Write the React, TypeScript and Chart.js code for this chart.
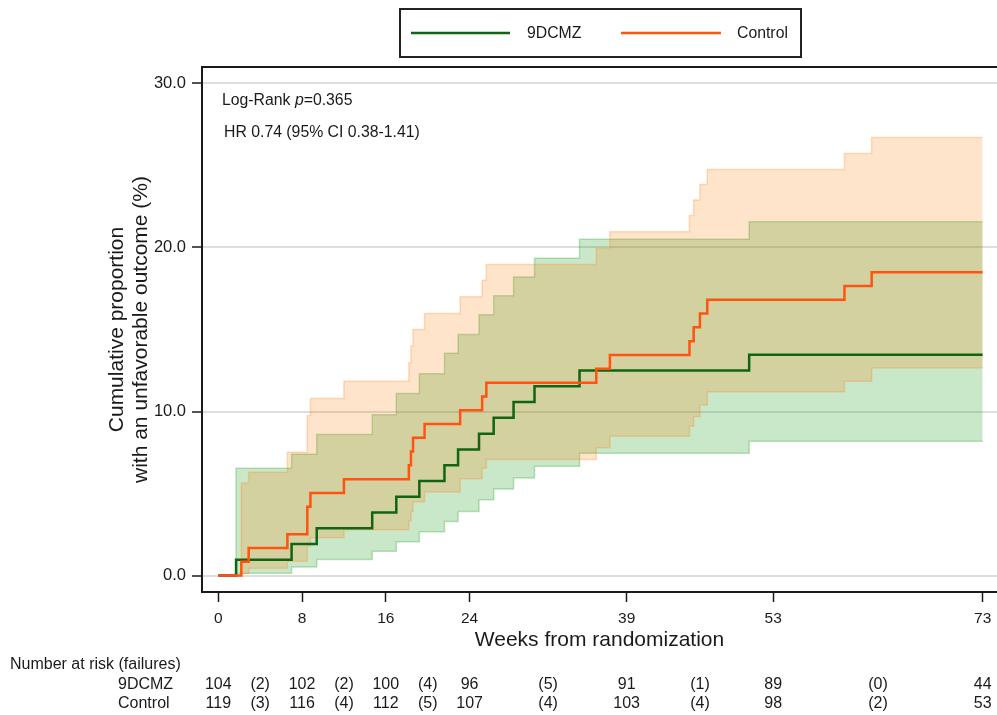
import { useEffect, useRef } from 'react';
import { Chart, registerables } from 'chart.js';

Chart.register(...registerables);

const FONT = "'Liberation Sans', Arial, Helvetica, sans-serif";
const TEXT = '#1a1a1a';

// ---- Data (weeks, cumulative %) ----
const weeks9 = [0, 1.7, 7.0, 9.4, 14.7, 17.0, 19.2, 21.6, 22.9, 24.9, 26.3, 28.2, 30.2, 34.5, 50.7, 73];
const cum9 = [0, 0.96, 1.92, 2.88, 3.85, 4.81, 5.77, 6.73, 7.69, 8.65, 9.62, 10.58, 11.54, 12.5, 13.46, 13.46];
const upper9 = [0, 6.55, 7.4, 8.6, 9.8, 11.1, 12.3, 13.55, 14.7, 15.9, 17.05, 18.2, 19.35, 20.5, 21.57, 21.57];
const lower9 = [0, 0.15, 0.53, 0.98, 1.48, 2.07, 2.68, 3.3, 3.9, 4.63, 5.28, 5.95, 6.67, 7.46, 8.19, 8.19];

const weeksC = [0, 2.2, 2.9, 6.6, 8.5, 8.8, 12.0, 18.2, 18.4, 18.6, 19.7, 23.1, 25.2, 25.6, 36.1, 37.4, 45.0, 45.4, 46.0, 46.7, 59.8, 62.4, 73];
const cumC = [0, 0.84, 1.68, 2.52, 4.2, 5.04, 5.88, 6.72, 7.56, 8.4, 9.24, 10.08, 10.92, 11.76, 12.61, 13.45, 14.29, 15.13, 15.97, 16.81, 17.65, 18.49, 18.49];
const upperC = [0, 5.65, 6.3, 7.52, 9.76, 10.8, 11.85, 12.97, 14.0, 15.0, 15.98, 17.0, 18.0, 18.96, 19.94, 20.96, 21.95, 22.9, 23.84, 24.76, 25.73, 26.7, 26.7];
const lowerC = [0, 0.12, 0.45, 0.87, 1.8, 2.3, 2.8, 3.35, 3.9, 4.5, 5.1, 5.9, 6.55, 7.07, 7.8, 8.5, 9.1, 9.7, 10.4, 11.2, 11.85, 12.66, 12.66];

const xTicks = [0, 8, 16, 24, 39, 53, 73];
const yTicks = [0, 10, 20, 30];

// ---- Risk table ----
const groupNames = ['9DCMZ', 'Control'];
const risk9 = [104, 102, 100, 96, 91, 89, 44];
const fail9 = [2, 2, 4, 5, 1, 0];
const riskC = [119, 116, 112, 107, 103, 98, 53];
const failC = [3, 4, 5, 4, 4, 2];

const riskHeader = 'Number at risk (failures)';
const xTitle = 'Weeks from randomization';
const yTitle = ['Cumulative proportion', 'with an unfavorable outcome (%)'];
const annoLogRank = ['Log-Rank ', 'p', '=0.365'];
const annoHR = 'HR 0.74 (95% CI 0.38-1.41)';

const GREEN = 'rgb(18,100,18)';
const ORANGE = 'rgb(255,84,16)';
const GREEN_FILL = 'rgba(40,160,40,0.25)';
const ORANGE_FILL = 'rgba(255,120,0,0.2)';
const GREEN_EDGE = 'rgba(40,160,40,0.3)';
const ORANGE_EDGE = 'rgba(255,130,30,0.28)';

const pts = (xs: number[], ys: number[]) => xs.map((x, i) => ({ x, y: ys[i] }));

export default function App() {
  const ref = useRef<HTMLCanvasElement>(null);

  useEffect(() => {
    const canvas = ref.current;
    if (!canvas) return;

    const overlay = {
      id: 'overlay',
      afterDraw(chart: any) {
        const ctx = chart.ctx as CanvasRenderingContext2D;
        const area = chart.chartArea;
        const xs = chart.scales.x;
        const W = chart.width;
        ctx.save();
        // top frame line
        ctx.strokeStyle = TEXT;
        ctx.lineWidth = 2;
        ctx.beginPath();
        ctx.moveTo(area.left - 1, area.top);
        ctx.lineTo(W, area.top);
        ctx.stroke();

        // legend box
        ctx.lineWidth = 2;
        ctx.strokeStyle = '#222';
        ctx.strokeRect(400, 9, 401, 48);
        ctx.lineWidth = 2.5;
        ctx.strokeStyle = GREEN;
        ctx.beginPath();
        ctx.moveTo(411, 33);
        ctx.lineTo(510, 33);
        ctx.stroke();
        ctx.strokeStyle = ORANGE;
        ctx.beginPath();
        ctx.moveTo(621, 33);
        ctx.lineTo(721, 33);
        ctx.stroke();
        ctx.fillStyle = TEXT;
        ctx.font = `15.8px ${FONT}`;
        ctx.textBaseline = 'middle';
        ctx.textAlign = 'left';
        ctx.fillText(groupNames[0], 527, 34);
        ctx.fillText(groupNames[1], 737, 34);

        // annotations
        let ax = 222;
        ctx.font = `15.8px ${FONT}`;
        ctx.fillText(annoLogRank[0], ax, 101);
        ax += ctx.measureText(annoLogRank[0]).width;
        ctx.font = `italic 15.8px ${FONT}`;
        ctx.fillText(annoLogRank[1], ax, 101);
        ax += ctx.measureText(annoLogRank[1]).width;
        ctx.font = `15.8px ${FONT}`;
        ctx.fillText(annoLogRank[2], ax, 101);
        ctx.fillText(annoHR, 224, 133);

        // risk table
        ctx.font = `16px ${FONT}`;
        ctx.textAlign = 'left';
        ctx.fillText(riskHeader, 10, 665);
        ctx.fillText(groupNames[0], 118, 685);
        ctx.fillText(groupNames[1], 118, 704);
        ctx.textAlign = 'center';
        const rows = [
          { y: 685, risk: risk9, fail: fail9 },
          { y: 704, risk: riskC, fail: failC },
        ];
        rows.forEach((r) => {
          r.risk.forEach((v, i) => {
            ctx.fillText(String(v), xs.getPixelForValue(xTicks[i]), r.y);
          });
          r.fail.forEach((v, i) => {
            const mid = (xs.getPixelForValue(xTicks[i]) + xs.getPixelForValue(xTicks[i + 1])) / 2;
            ctx.fillText(`(${v})`, mid, r.y);
          });
        });
        ctx.restore();
      },
    };

    const chart = new Chart(canvas, {
      type: 'line',
      data: {
        datasets: [
          {
            label: 'Control',
            data: pts(weeksC, cumC),
            borderColor: ORANGE,
            borderWidth: 2.5,
            stepped: true,
            fill: false,
            pointRadius: 0,
          },
          {
            label: '9DCMZ',
            data: pts(weeks9, cum9),
            borderColor: GREEN,
            borderWidth: 2.5,
            stepped: true,
            fill: false,
            pointRadius: 0,
          },
          {
            label: 'Control upper',
            data: pts(weeksC, upperC),
            borderColor: ORANGE_EDGE,
            backgroundColor: ORANGE_FILL,
            borderWidth: 1.5,
            stepped: true,
            fill: '+1',
            pointRadius: 0,
          },
          {
            label: 'Control lower',
            data: pts(weeksC, lowerC),
            borderColor: ORANGE_EDGE,
            borderWidth: 1.5,
            stepped: true,
            fill: false,
            pointRadius: 0,
          },
          {
            label: '9DCMZ upper',
            data: pts(weeks9, upper9),
            borderColor: GREEN_EDGE,
            backgroundColor: GREEN_FILL,
            borderWidth: 1.5,
            stepped: true,
            fill: '+1',
            pointRadius: 0,
          },
          {
            label: '9DCMZ lower',
            data: pts(weeks9, lower9),
            borderColor: GREEN_EDGE,
            borderWidth: 1.5,
            stepped: true,
            fill: false,
            pointRadius: 0,
          },
        ],
      },
      options: {
        responsive: false,
        animation: false,
        devicePixelRatio: 1,
        layout: { padding: { top: 67, left: 0, right: 0, bottom: 0 } },
        plugins: {
          legend: { display: false },
          tooltip: { enabled: false },
        },
        scales: {
          x: {
            type: 'linear',
            min: -1.556,
            max: 74.37,
            afterBuildTicks: (s: any) => {
              s.ticks = xTicks.map((v) => ({ value: v }));
            },
            afterFit: (s: any) => {
              s.height = 123;
            },
            ticks: {
              autoSkip: false,
              maxRotation: 0,
              color: TEXT,
              padding: 0,
              font: { family: FONT, size: 15.5, lineHeight: '34px' },
              callback: (v: any) => String(v),
            },
            grid: {
              drawOnChartArea: false,
              drawTicks: true,
              tickLength: 10,
              tickWidth: 1.5,
              tickColor: TEXT,
            },
            border: { display: true, color: TEXT, width: 2 },
            title: {
              display: true,
              text: xTitle,
              color: TEXT,
              font: { family: FONT, size: 21 },
              padding: { top: 0, bottom: 62 },
            },
          },
          y: {
            type: 'linear',
            min: -1,
            max: 31,
            afterBuildTicks: (s: any) => {
              s.ticks = yTicks.map((v) => ({ value: v }));
            },
            afterFit: (s: any) => {
              s.width = 202;
            },
            ticks: {
              color: TEXT,
              padding: 6,
              font: { family: FONT, size: 16.5 },
              callback: (v: any) => Number(v).toFixed(1),
            },
            grid: {
              color: '#dedede',
              lineWidth: 2,
              drawTicks: true,
              tickLength: 10,
              tickWidth: 1.5,
              tickColor: TEXT,
            },
            border: { display: true, color: TEXT, width: 2 },
            title: {
              display: true,
              text: yTitle,
              color: TEXT,
              font: { family: FONT, size: 21, lineHeight: '24px' },
              padding: { top: 105, bottom: 0 },
            },
          },
        },
      },
      plugins: [overlay],
    } as any);

    return () => chart.destroy();
  }, []);

  return (
    <div style={{ position: 'absolute', left: 0, top: 0, width: 997, height: 715, background: '#fff' }}>
      <canvas ref={ref} width={997} height={715} style={{ display: 'block', width: 997, height: 715 }} />
    </div>
  );
}
